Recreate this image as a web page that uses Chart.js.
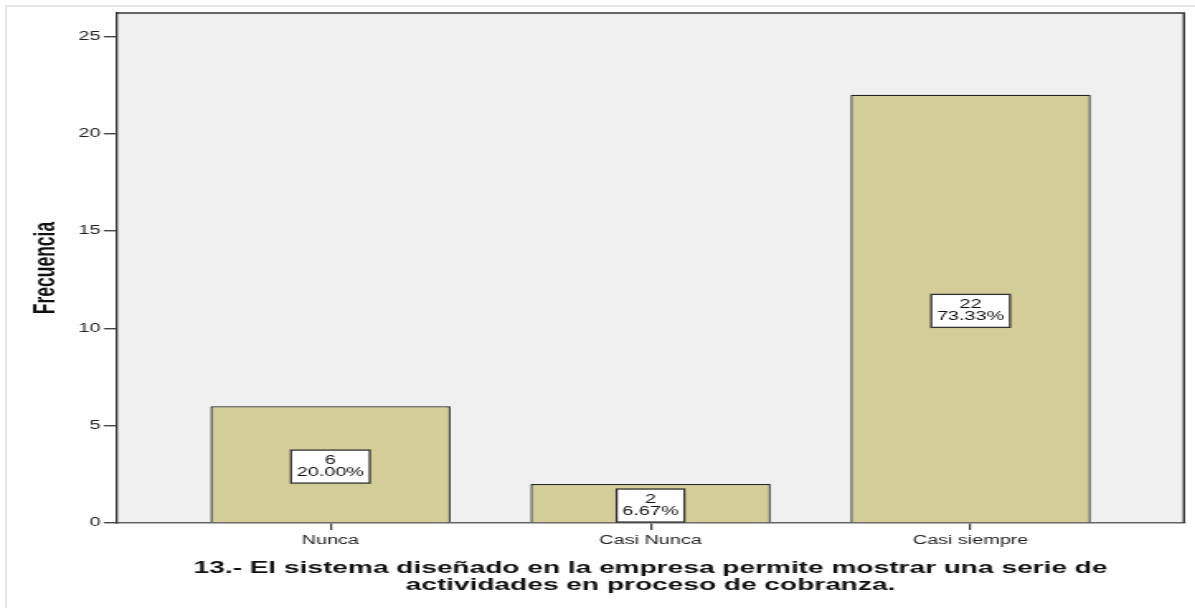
<!DOCTYPE html>
<html lang="es">
<head>
  <meta charset="UTF-8">
  <title>Frecuencia - pregunta 13</title>
  <script src="https://cdn.jsdelivr.net/npm/chart.js"></script>
  <style>
    html, body { margin: 0; padding: 0; background: #fff; overflow: hidden; }
    /* chart is drawn narrow and stretched sideways, like the exported SPSS graphic */
    #wrap { position: absolute; left: 0; top: 0; width: 724px; height: 608px;
            transform: scaleX(1.6506); transform-origin: 0 0; }
    #frame { position: absolute; left: 5px; top: 5px; width: 1190px; height: 640px;
             border-left: 2px solid #e6e6e6; border-top: 2px solid #e6e6e6; }
  </style>
</head>
<body>
  <div id="frame"></div>
  <div id="wrap"><canvas id="freqChart" width="724" height="608"></canvas></div>

  <script>
    const categories = ['Nunca', 'Casi Nunca', 'Casi siempre'];
    const counts = [6, 2, 22];
    const yTicks = [0, 5, 10, 15, 20, 25];
    const yMax = 26.2;
    const titleLines = [
      '13.- El sistema diseñado en la empresa permite mostrar una serie de',
      'actividades en proceso de cobranza.'
    ];

    const FONT = '"Liberation Sans", Arial, sans-serif';
    const total = counts.reduce((a, b) => a + b, 0);

    // grey plot background plus the frame round the plot
    const plotFrame = {
      id: 'plotFrame',
      beforeDraw(chart) {
        const { ctx, chartArea: a } = chart;
        ctx.save();
        ctx.fillStyle = '#f0f0f0';
        ctx.fillRect(a.left, a.top, a.right - a.left, a.bottom - a.top);
        ctx.restore();
      },
      afterDraw(chart) {
        const { ctx, chartArea: a } = chart;
        ctx.save();
        ctx.strokeStyle = '#333';
        ctx.lineWidth = 1.4;
        ctx.beginPath();
        ctx.moveTo(a.left, a.top);
        ctx.lineTo(a.right, a.top);
        ctx.lineTo(a.right, a.bottom);
        ctx.stroke();
        ctx.restore();
      }
    };

    // count / percent boxes in the middle of each bar
    const barLabels = {
      id: 'barLabels',
      afterDatasetsDraw(chart) {
        const { ctx } = chart;
        const yScale = chart.scales.y;
        const meta = chart.getDatasetMeta(0);
        ctx.save();
        ctx.font = '12px ' + FONT;
        ctx.textAlign = 'center';
        ctx.textBaseline = 'middle';
        meta.data.forEach((bar, i) => {
          const v = counts[i];
          const lines = [String(v), (v / total * 100).toFixed(2) + '%'];
          const w = Math.max(...lines.map(t => ctx.measureText(t).width)) + 7;
          const h = 33;
          const cy = yScale.getPixelForValue(v / 2) + 2;
          const x0 = bar.x - w / 2, y0 = cy - h / 2;
          ctx.fillStyle = '#ffffff';
          ctx.fillRect(x0, y0, w, h);
          ctx.strokeStyle = '#333';
          ctx.lineWidth = 1.3;
          ctx.strokeRect(x0, y0, w, h);
          ctx.fillStyle = '#111';
          ctx.fillText(lines[0], bar.x, cy - 6);
          ctx.fillText(lines[1], bar.x, cy + 6);
        });
        ctx.restore();
      }
    };

    new Chart(document.getElementById('freqChart'), {
      type: 'bar',
      data: {
        datasets: [{
          label: 'Frecuencia',
          data: counts.map((c, i) => ({ x: i, y: c })),
          backgroundColor: '#d3ce98',
          borderColor: '#222',
          borderWidth: 1.3,
          barPercentage: 0.75,
          categoryPercentage: 1
        }]
      },
      options: {
        responsive: false,
        animation: false,
        layout: { padding: { top: 13, right: 6.7, left: 0, bottom: 0 } },
        plugins: {
          legend: { display: false },
          tooltip: { enabled: false },
          title: {
            display: true,
            position: 'bottom',
            fullSize: false,
            text: titleLines,
            color: '#111',
            font: { family: FONT, size: 17, weight: 'bold', lineHeight: 1 },
            padding: { top: 6.5, bottom: 14.5 }
          }
        },
        scales: {
          x: {
            type: 'linear',
            offset: false,
            min: -2 / 3,
            max: 8 / 3,
            afterBuildTicks(s) { s.ticks = categories.map((c, i) => ({ value: i })); },
            afterFit(s) { s.height = 30; },
            ticks: {
              color: '#222',
              padding: 3,
              font: { family: FONT, size: 12 },
              callback: v => categories[v]
            },
            grid: { offset: false, drawOnChartArea: false, drawTicks: true, tickLength: 7, color: '#333', lineWidth: 1.2 },
            border: { display: true, color: '#666', width: 1.6 }
          },
          y: {
            min: 0,
            max: yMax,
            afterBuildTicks(s) { s.ticks = yTicks.map(v => ({ value: v })); },
            afterFit(s) { s.width = 70.9; },
            ticks: {
              color: '#222',
              padding: 2,
              font: { family: FONT, size: 12 }
            },
            grid: { drawOnChartArea: false, drawTicks: true, tickLength: 8, color: '#444', lineWidth: 1.4 },
            border: { display: true, color: '#333', width: 1.3 },
            title: {
              display: true,
              text: 'Frecuencia',
              color: '#111',
              font: { family: FONT, size: 17.5, weight: 'bold', lineHeight: 1.2 },
              padding: { top: 17.7, bottom: 0 }
            }
          }
        }
      },
      plugins: [plotFrame, barLabels]
    });
  </script>
</body>
</html>
